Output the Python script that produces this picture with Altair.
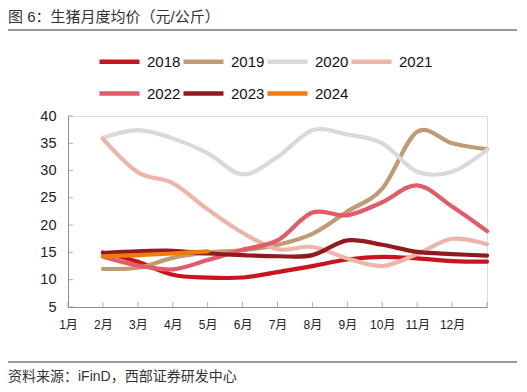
import altair as alt
import pandas as pd

years = ["2018", "2019", "2020", "2021", "2022", "2023", "2024"]
colors = ["#C8141E", "#BF9A72", "#D9D9D9", "#EDB5A9", "#E25B69", "#921A1D", "#F07C0A"]

p2018 = [15.0, 13.3, 10.9, 10.4, 10.4, 11.4, 12.5, 13.7, 14.2, 13.9, 13.4, 13.3]
p2019 = [12.0, 12.2, 14.0, 15.0, 15.4, 16.4, 18.4, 22.5, 26.7, 37.1, 35.0, 33.9]
p2020 = [36.0, 37.4, 35.9, 33.2, 29.3, 32.5, 37.4, 36.6, 35.0, 29.8, 29.8, 33.8]
p2021 = [35.8, 29.7, 27.7, 22.9, 18.6, 15.6, 16.0, 13.9, 12.5, 14.7, 17.5, 16.5]
p2022 = [14.2, 12.6, 11.9, 13.6, 15.5, 17.2, 22.3, 21.8, 24.2, 27.3, 23.4, 18.9]
p2023 = [14.9, 15.2, 15.3, 14.8, 14.5, 14.3, 14.5, 17.2, 16.4, 15.1, 14.7, 14.4]
p2024 = [14.3, 14.5, 14.8, 15.2]

month_labels = ["1月", "2月", "3月", "4月", "5月", "6月", "7月", "8月", "9月", "10月", "11月", "12月"]
x_ticks = list(range(13))
y_ticks = [5, 10, 15, 20, 25, 30, 35, 40]

title_text = "图 6：生猪月度均价（元/公斤）"
source_text = "资料来源：iFinD，西部证券研发中心"

series = [p2018, p2019, p2020, p2021, p2022, p2023, p2024]
rows = []
for yr, vals in zip(years, series):
    for i, v in enumerate(vals):
        rows.append({"year": yr, "m": i + 1, "v": v})
df = pd.DataFrame(rows)

FONT = "Liberation Sans, Noto Sans CJK SC"
AX = "#8C8C8C"

label_expr = "datum.value < 12 ? (datum.value + 1) + '月' : ''"

xscale = alt.Scale(domain=[0, 12], nice=False, zero=False)
yscale = alt.Scale(domain=[5, 40], nice=False, zero=False)

xaxis = alt.Axis(values=x_ticks, labelExpr=label_expr, ticks=False, grid=False,
                 title=None, labelFontSize=12, labelPadding=12, labelFont=FONT,
                 labelColor="#222", domainColor=AX, labelFlush=False,
                 labelOverlap=False, labelBound=False)
yaxis = alt.Axis(values=y_ticks, ticks=False, grid=False, title=None,
                 labelFontSize=14.5, labelPadding=12, labelFont=FONT,
                 labelColor="#222", domainColor=AX, labelOverlap=False,
                 labelFlush=False, labelBound=False)

lines = alt.Chart(df).mark_line(
    interpolate="cardinal", strokeWidth=4.2, strokeCap="round", strokeJoin="round"
).encode(
    x=alt.X("m:Q", scale=xscale, axis=xaxis),
    y=alt.Y("v:Q", scale=yscale, axis=yaxis),
    color=alt.Color("year:N", scale=alt.Scale(domain=years, range=colors),
                    legend=alt.Legend(title=None, orient="none", legendX=29, legendY=-77,
                                      columns=4, direction="horizontal",
                                      symbolType="stroke", symbolSize=1600,
                                      symbolStrokeWidth=4.5, labelFontSize=15,
                                      labelFont=FONT, labelColor="#111", labelOffset=5,
                                      columnPadding=-10, rowPadding=-17)),
)

xt = alt.Chart(pd.DataFrame({"t": x_ticks})).mark_tick(
    orient="vertical", size=5, thickness=1, color=AX, yOffset=-2.5
).encode(x=alt.X("t:Q", scale=xscale, axis=xaxis),
         y=alt.YDatum(5, scale=yscale, axis=yaxis))

yt = alt.Chart(pd.DataFrame({"t": y_ticks})).mark_tick(
    orient="horizontal", size=5, thickness=1, color=AX, xOffset=2.5
).encode(y=alt.Y("t:Q", scale=yscale, axis=yaxis),
         x=alt.XDatum(0, scale=xscale, axis=xaxis))

title = alt.Chart(pd.DataFrame({"t": [title_text]})).mark_text(
    align="left", baseline="middle", fontSize=15, font=FONT, color="#333"
).encode(text="t:N", x=alt.value(-60), y=alt.value(-99))

source = alt.Chart(pd.DataFrame({"t": [source_text]})).mark_text(
    align="left", baseline="middle", fontSize=14, font=FONT, color="#333"
).encode(text="t:N", x=alt.value(-60), y=alt.value(261))

top_line = alt.Chart(pd.DataFrame({"a": [0]})).mark_rule(color="#333", strokeWidth=1).encode(
    x=alt.value(-62), x2=alt.value(449), y=alt.value(-86))
bot_line = alt.Chart(pd.DataFrame({"a": [0]})).mark_rule(color="#333", strokeWidth=1).encode(
    x=alt.value(-62), x2=alt.value(449), y=alt.value(246))

chart = alt.layer(lines, xt, yt, title, source, top_line, bot_line).properties(
    width=419, height=191, autosize="none",
    padding={"left": 60, "top": 108, "right": 32, "bottom": 77},
).configure_view(stroke=None).configure(background="white")

chart.save("out.html", embed_options={"renderer": "svg", "actions": False})
